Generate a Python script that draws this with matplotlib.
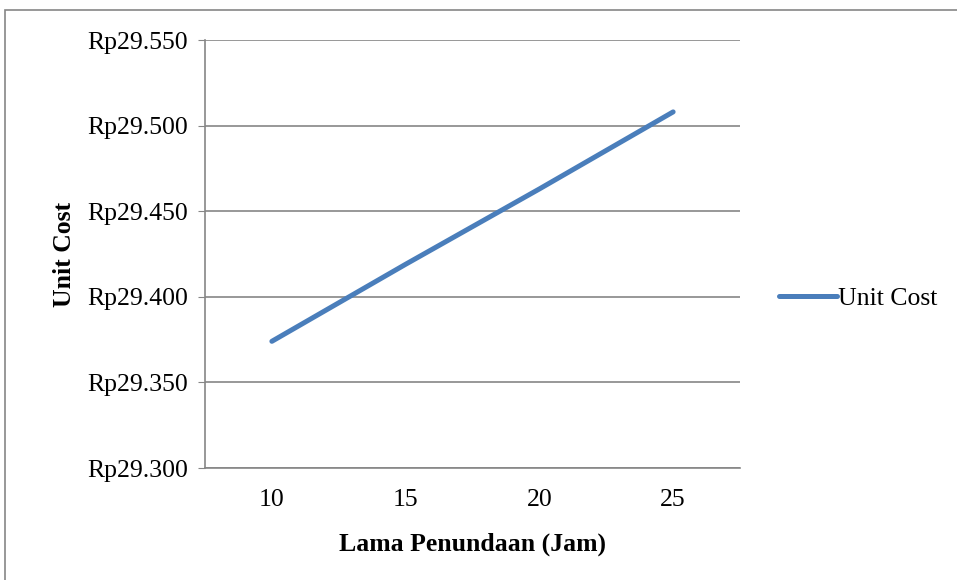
import matplotlib.pyplot as plt
from matplotlib.patches import Rectangle
from matplotlib.ticker import FuncFormatter

delay_hours = ['10', '15', '20', '25']
unit_cost = [29.374, 29.419, 29.463, 29.508]
y_ticks = [29.30, 29.35, 29.40, 29.45, 29.50, 29.55]

plt.rcParams['font.family'] = ['Liberation Serif', 'DejaVu Serif']
FS = 18.5

fig = plt.figure(figsize=(9.57, 5.80), dpi=100)
# chart border
fig.patches.append(Rectangle((5 / 957, -0.05), 1.1, 1 - 10 / 580 + 0.05,
                             transform=fig.transFigure, fill=False,
                             edgecolor='#868686', linewidth=1.2))

ax = fig.add_axes([205 / 957, 1 - 468 / 580, 535 / 957, 428 / 580])
x = list(range(len(delay_hours)))
ax.plot(x, unit_cost, color='#4A7EBB', linewidth=3.6, solid_capstyle='round',
        label='Unit Cost')

ax.set_xlim(-0.5, len(delay_hours) - 0.5)
ax.set_ylim(29.30, 29.55)
ax.set_yticks(y_ticks)
ax.yaxis.set_major_formatter(FuncFormatter(lambda v, p: 'Rp' + f'{v:.3f}'))
ax.set_xticks(x)
ax.set_xticklabels(delay_hours)
ax.grid(axis='y', color='#868686', linewidth=1.2)
ax.set_axisbelow(True)

for s in ['top', 'right']:
    ax.spines[s].set_visible(False)
for s in ['left', 'bottom']:
    ax.spines[s].set_color('#868686')
    ax.spines[s].set_linewidth(1.2)
ax.tick_params(axis='y', length=5, color='#868686', labelsize=FS, pad=7)
ax.tick_params(axis='x', length=0, labelsize=FS, pad=15)

ax.set_xlabel('Lama Penundaan (Jam)', fontsize=FS, fontweight='bold', labelpad=16)
ax.set_ylabel('Unit Cost', fontsize=FS, fontweight='bold', labelpad=8)

ax.legend(loc='center left', bbox_to_anchor=(1.03, 0.397), frameon=False,
          fontsize=FS, handlelength=2.25, handletextpad=0.05)

fig.savefig('out.png', dpi=100)
